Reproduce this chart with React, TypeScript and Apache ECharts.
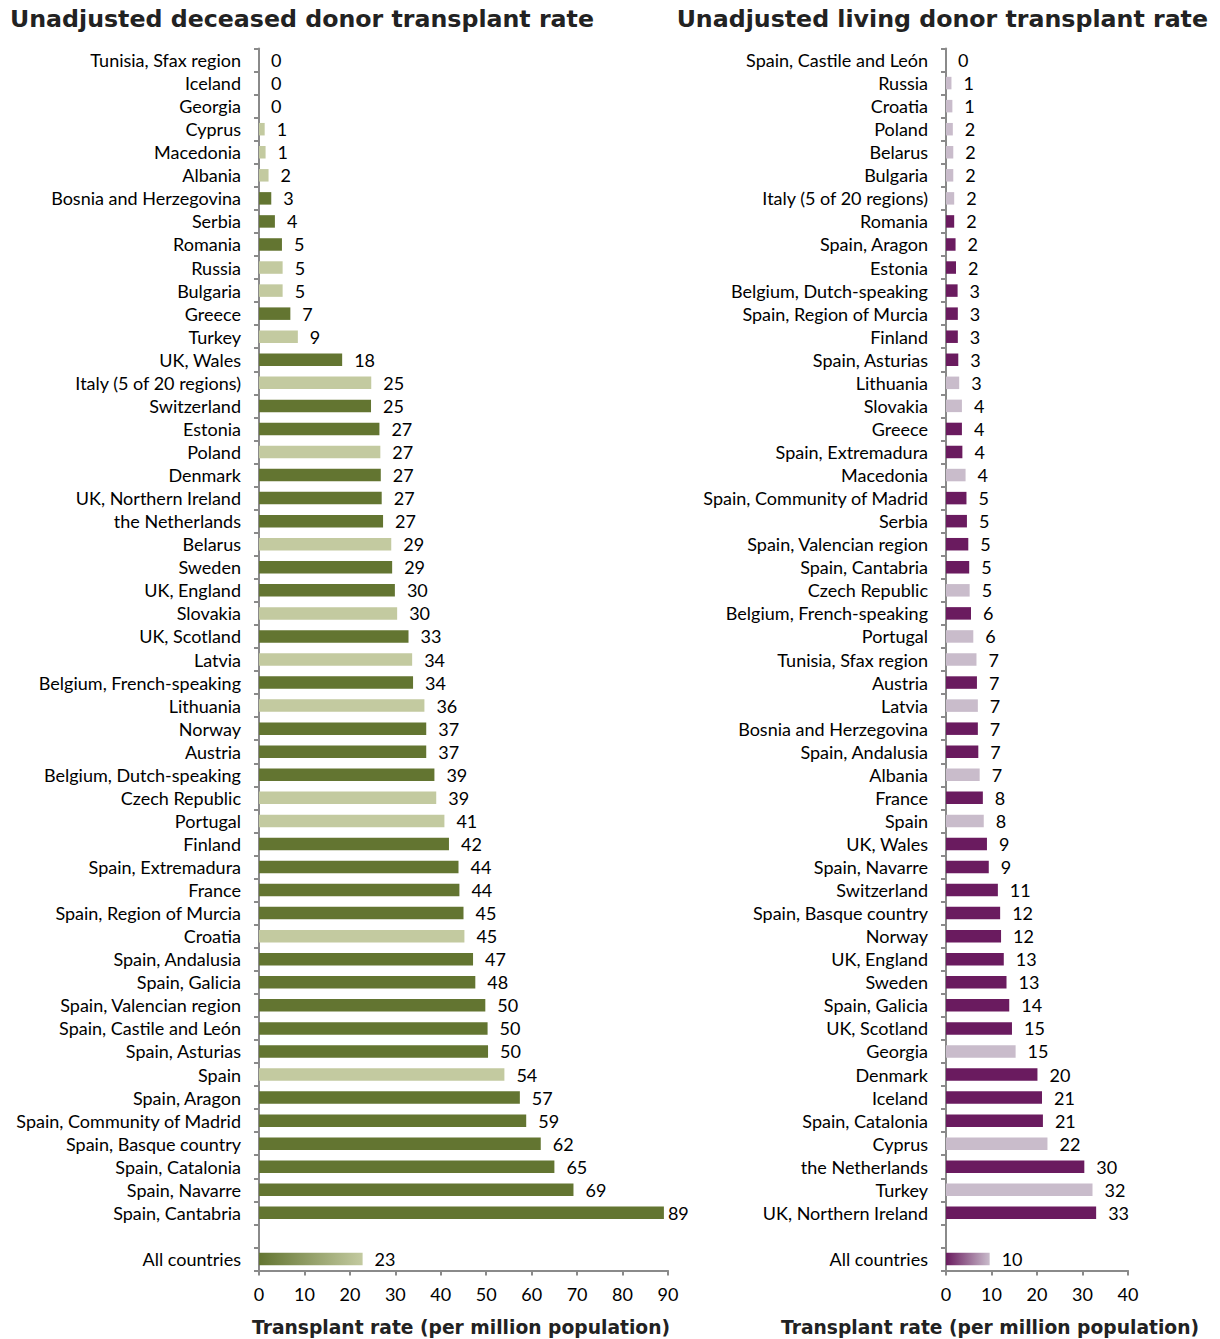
import React, { useEffect, useRef } from "react";
import * as echarts from "echarts";

// ---------- DATA ----------
const deceasedCountries = [
  "Tunisia, Sfax region", "Iceland", "Georgia", "Cyprus", "Macedonia", "Albania",
  "Bosnia and Herzegovina", "Serbia", "Romania", "Russia", "Bulgaria", "Greece", "Turkey",
  "UK, Wales", "Italy (5 of 20 regions)", "Switzerland", "Estonia", "Poland", "Denmark",
  "UK, Northern Ireland", "the Netherlands", "Belarus", "Sweden", "UK, England", "Slovakia",
  "UK, Scotland", "Latvia", "Belgium, French-speaking", "Lithuania", "Norway", "Austria",
  "Belgium, Dutch-speaking", "Czech Republic", "Portugal", "Finland", "Spain, Extremadura",
  "France", "Spain, Region of Murcia", "Croatia", "Spain, Andalusia", "Spain, Galicia",
  "Spain, Valencian region", "Spain, Castile and León", "Spain, Asturias", "Spain",
  "Spain, Aragon", "Spain, Community of Madrid", "Spain, Basque country", "Spain, Catalonia",
  "Spain, Navarre", "Spain, Cantabria",
];
const deceasedValues = [
  0, 0, 0, 1.25, 1.45, 2.1, 2.7, 3.5, 5.05, 5.2, 5.2, 6.9, 8.55, 18.3, 24.7, 24.65, 26.5,
  26.7, 26.8, 27.0, 27.3, 29.1, 29.3, 29.9, 30.4, 32.9, 33.7, 33.9, 36.4, 36.8, 36.8, 38.6,
  39.0, 40.8, 41.8, 43.9, 44.1, 45.0, 45.2, 47.1, 47.6, 49.8, 50.3, 50.4, 54.0, 57.4, 58.8,
  62.0, 65.0, 69.2, 89.1,
];
// true = shown in the light shade in the source chart
const deceasedLightShade = [
  true, false, true, true, true, true, false, false, false, true, true, false, true,
  false, true, false, false, true, false, false, false, true, false, false, true,
  false, true, false, true, false, false, false, true, true, false, false,
  false, false, true, false, false, false, false, false, true,
  false, false, false, false, false, false,
];
const deceasedAllCountries = 22.8;

const livingCountries = [
  "Spain, Castile and León", "Russia", "Croatia", "Poland", "Belarus", "Bulgaria",
  "Italy (5 of 20 regions)", "Romania", "Spain, Aragon", "Estonia", "Belgium, Dutch-speaking",
  "Spain, Region of Murcia", "Finland", "Spain, Asturias", "Lithuania", "Slovakia", "Greece",
  "Spain, Extremadura", "Macedonia", "Spain, Community of Madrid", "Serbia",
  "Spain, Valencian region", "Spain, Cantabria", "Czech Republic", "Belgium, French-speaking",
  "Portugal", "Tunisia, Sfax region", "Austria", "Latvia", "Bosnia and Herzegovina",
  "Spain, Andalusia", "Albania", "France", "Spain", "UK, Wales", "Spain, Navarre",
  "Switzerland", "Spain, Basque country", "Norway", "UK, England", "Sweden", "Spain, Galicia",
  "UK, Scotland", "Georgia", "Denmark", "Iceland", "Spain, Catalonia", "Cyprus",
  "the Netherlands", "Turkey", "UK, Northern Ireland",
];
const livingValues = [
  0, 1.2, 1.4, 1.5, 1.6, 1.6, 1.8, 1.8, 2.1, 2.2, 2.55, 2.6, 2.6, 2.7, 2.9, 3.5, 3.5, 3.6,
  4.3, 4.5, 4.6, 4.9, 5.1, 5.2, 5.5, 6.0, 6.7, 6.8, 7.0, 7.0, 7.1, 7.4, 8.1, 8.3, 9.0, 9.4,
  11.4, 11.9, 12.1, 12.7, 13.3, 13.9, 14.5, 15.3, 20.1, 21.1, 21.3, 22.3, 30.4, 32.2, 33.0,
];
const livingLightShade = [
  false, true, true, true, true, true, true, false, false, false, false, false, false,
  false, true, true, false, false, true, false, false, false, false, true, false, true,
  true, false, true, false, false, true, false, true, false, false, false, false, false,
  false, false, false, false, true, false, false, false, true, false, true, false,
];
const livingAllCountries = 9.6;

const allLabel = "All countries";
const deceasedTicks = [0, 90, 10]; // min, max, interval
const livingTicks = [0, 40, 10];

const leftTitle = "Unadjusted deceased donor transplant rate";
const rightTitle = "Unadjusted living donor transplant rate";
const axisTitle = "Transplant rate (per million population)";

// ---------- STYLE ----------
const GREEN_DARK = "#637531";
const GREEN_LIGHT = "#c3caa0";
const PURPLE_DARK = "#6a1b5f";
const PURPLE_LIGHT = "#c9bccb";
const AXIS_COLOR = "#8a8a8a";
const LABEL_FONT = "Lato";
const TITLE_FONT = '"DejaVu Sans"';
const FS = 18;

function buildSeriesData(values: number[], light: boolean[], all: number, dark: string, lite: string) {
  const data: any[] = values.map((v, i) => ({
    value: v,
    itemStyle: { color: light[i] ? lite : dark },
  }));
  data.push({ value: "-" });
  data.push({
    value: all,
    itemStyle: {
      color: new echarts.graphic.LinearGradient(0, 0, 1, 0, [
        { offset: 0, color: dark },
        { offset: 1, color: lite },
      ]),
    },
  });
  return data;
}

export default function App() {
  const ref = useRef<HTMLDivElement>(null);

  useEffect(() => {
    if (!ref.current) return;
    const chart = echarts.init(ref.current, undefined, { renderer: "svg" });

    const leftCats = [...deceasedCountries, "", allLabel];
    const rightCats = [...livingCountries, "", allLabel];

    const leftData = buildSeriesData(deceasedValues, deceasedLightShade, deceasedAllCountries, GREEN_DARK, GREEN_LIGHT);
    const rightData = buildSeriesData(livingValues, livingLightShade, livingAllCountries, PURPLE_DARK, PURPLE_LIGHT);
    // keep the label of the longest bar inside the plot area, as in the source
    const maxIdx = deceasedValues.indexOf(Math.max(...deceasedValues));
    leftData[maxIdx].label = { distance: 4 };

    const catAxis = (gridIndex: number, cats: string[]) => ({
      type: "category",
      gridIndex,
      data: cats,
      inverse: true,
      axisLine: { show: true, lineStyle: { color: AXIS_COLOR, width: 2 } },
      axisTick: { show: true, interval: 0, length: 5, lineStyle: { color: AXIS_COLOR, width: 2 } },
      axisLabel: { interval: 0, margin: 18, fontSize: FS, color: "#000", fontFamily: LABEL_FONT },
      splitLine: { show: false },
    });
    const valAxis = (gridIndex: number, ticks: number[]) => ({
      type: "value",
      gridIndex,
      min: ticks[0],
      max: ticks[1],
      interval: ticks[2],
      axisLine: { show: true, lineStyle: { color: AXIS_COLOR, width: 2 } },
      axisTick: { show: true, length: 5, lineStyle: { color: AXIS_COLOR, width: 2 } },
      axisLabel: { margin: 14, fontSize: FS, color: "#000", fontFamily: LABEL_FONT },
      splitLine: { show: false },
    });

    const barLabel = {
      show: true,
      position: "right",
      distance: 12,
      fontSize: FS,
      color: "#000",
      fontFamily: LABEL_FONT,
      formatter: (p: any) => String(Math.round(p.value)),
    };

    const titleStyle = (text: string, size: number) => ({
      text,
      font: `bold ${size}px ${TITLE_FONT}`,
      fill: "#222",
    });

    chart.setOption({
      animation: false,
      backgroundColor: "#fff",
      grid: [
        { left: 259, width: 409, top: 48.5, height: 1222 },
        { left: 946, width: 182, top: 48.5, height: 1222 },
      ],
      yAxis: [catAxis(0, leftCats), catAxis(1, rightCats)],
      xAxis: [valAxis(0, deceasedTicks), valAxis(1, livingTicks)],
      series: [
        {
          type: "bar",
          xAxisIndex: 0,
          yAxisIndex: 0,
          data: leftData,
          barWidth: 12.5,
          label: barLabel,
        },
        {
          type: "bar",
          xAxisIndex: 1,
          yAxisIndex: 1,
          data: rightData,
          barWidth: 12.5,
          label: barLabel,
        },
      ],
      graphic: [
        { type: "text", left: 10, top: 7, style: titleStyle(leftTitle, 23.7) },
        { type: "text", right: 12, top: 7, style: titleStyle(rightTitle, 23.7) },
        {
          type: "text",
          x: 461,
          y: 1327,
          style: { ...titleStyle(axisTitle, 18.7), textAlign: "center", textVerticalAlign: "middle" },
        },
        {
          type: "text",
          x: 990,
          y: 1327,
          style: { ...titleStyle(axisTitle, 18.7), textAlign: "center", textVerticalAlign: "middle" },
        },
      ],
    });

    return () => chart.dispose();
  }, []);

  return (
    <div
      ref={ref}
      style={{ position: "absolute", left: 0, top: 0, width: 1220, height: 1339 }}
    />
  );
}
